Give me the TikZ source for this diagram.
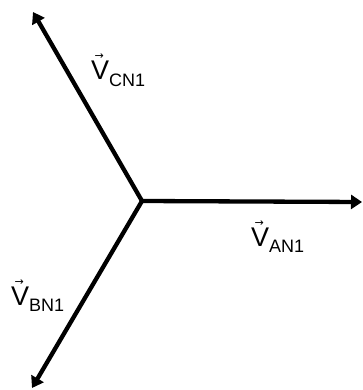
\documentclass[tikz,border=0pt]{standalone}
\usepackage{fontspec}
\setmainfont{Liberation Sans}
\newfontfamily\arrowfont{DejaVu Sans}
\usetikzlibrary{arrows.meta}
\newcommand{\phasorlab}[1]{\makebox[0pt][l]{\hspace{3.5pt}\raisebox{20pt}{\arrowfont\fontsize{11}{11}\selectfont →}}V\raisebox{-6.5pt}{\fontsize{18}{18}\selectfont #1}}
\begin{document}
\begin{tikzpicture}[x=1pt,y=-1pt,
  phasor/.style={line width=4.3pt,-{Triangle[length=11pt,width=14pt]}},
  lab/.style={anchor=base west,inner sep=0pt,font=\fontsize{27}{27}\selectfont}]
\useasboundingbox (0,0) rectangle (362,390);
\coordinate (o) at (142,201);
\coordinate (a) at (362,202);
\coordinate (c) at (33,12);
\coordinate (b) at (32,388);
\draw[phasor] (o) -- (a);
\draw[phasor] (o) -- (c);
\draw[phasor] (o) -- (b);
\node[lab] (la) at (251,246) {\phasorlab{AN1}};
\node[lab] (lc) at (91,80) {\phasorlab{CN1}};
\node[lab] (lb) at (11,305) {\phasorlab{BN1}};
\end{tikzpicture}
\end{document}
